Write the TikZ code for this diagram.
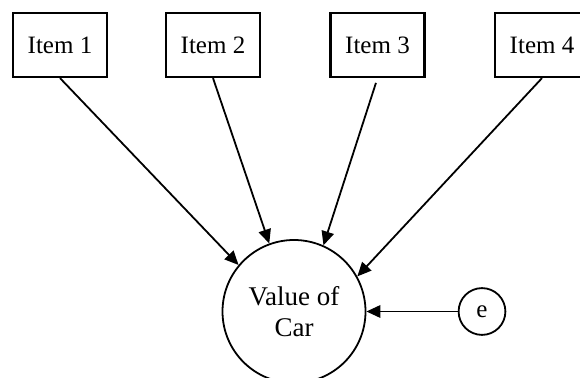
\documentclass[tikz,border=0pt]{standalone}
\usepackage{fontspec}
\setmainfont{Liberation Serif}
\usetikzlibrary{arrows.meta}
\begin{document}
\begin{tikzpicture}[x=1pt,y=1pt,
  itembox/.style={draw, line width=2.2pt, minimum width=94pt, minimum height=64pt, inner sep=0pt, font=\fontsize{25}{30}\selectfont},
  latent/.style={draw, circle, line width=1.8pt, minimum size=143pt, inner sep=0pt, align=center, font=\fontsize{27}{30.5}\selectfont},
  errc/.style={draw, circle, line width=1.8pt, minimum size=46.8pt, inner sep=0pt, font=\fontsize{25}{30}\selectfont},
  conn/.style={line width=1.8pt, -{Triangle[length=14pt,width=12.5pt]}}
]
\useasboundingbox (0,0) rectangle (580,377);
\node[itembox] (i1) at (60,332) {Item 1};
\node[itembox] (i2) at (213,332) {Item 2};
\node[itembox] (i3) at (377.5,332) {Item 3};
\node[itembox] (i4) at (542,332) {Item 4};
\node[latent] (v) at (294,65.5) {Value of\\Car};
\node[errc] (e) at (482,65.5) {e};
\draw[conn] (i1.south) -- (v.140);
\draw[conn] (i2.south) -- (v.110);
\draw[conn, shorten <=5pt] (i3.south) -- (v.66);
\draw[conn] (i4.south) -- (v.29);
\draw[conn] (e.west) -- (v.east);
\end{tikzpicture}
\end{document}
